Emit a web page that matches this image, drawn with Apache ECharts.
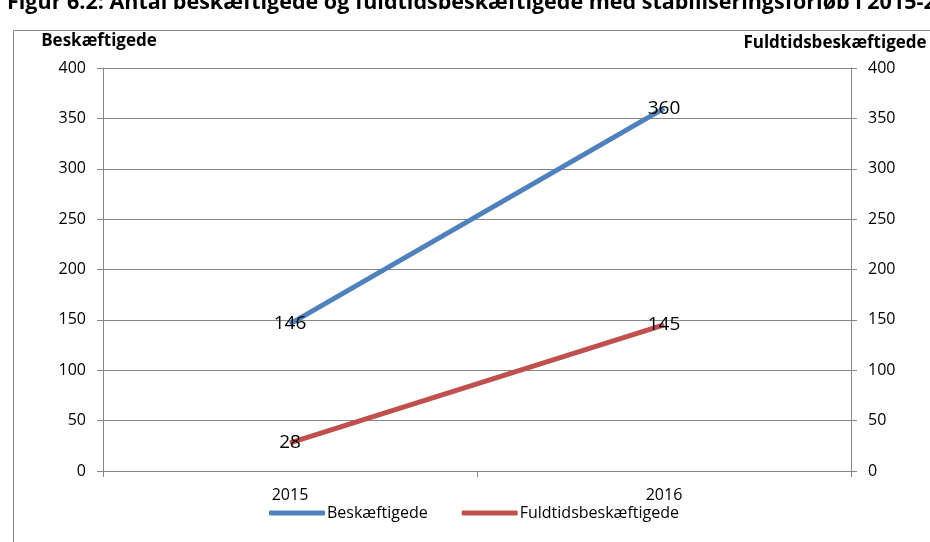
<!DOCTYPE html>
<html><head><meta charset="utf-8">
<script src="https://cdn.jsdelivr.net/npm/echarts@6/dist/echarts.min.js"></script>
<style>html,body{margin:0;padding:0;background:#fff}#c{width:930px;height:542px}</style>
</head><body><div id="c"></div>
<script>
const titleText = 'Figur 6.2: Antal beskæftigede og fuldtidsbeskæftigede med stabiliseringsforløb i 2015-2016';
const categories = ['2015', '2016'];
const beskaeftigede = [146, 360];
const fuldtids = [28, 145];
const seriesNames = ['Beskæftigede', 'Fuldtidsbeskæftigede'];
const axisNames = ['Beskæftigede', 'Fuldtidsbeskæftigede'];

const font = '"Open Sans", "Liberation Sans", sans-serif';
const chart = echarts.init(document.getElementById('c'));
const axisCommon = {
  type: 'value', min: 0, max: 400, interval: 50,
  axisLine: {show: true, lineStyle: {color: '#868686', width: 1}},
  axisTick: {show: true, length: 6, lineStyle: {color: '#868686'}},
  axisLabel: {color: '#000', fontSize: 16, fontFamily: font, margin: 17},
  nameTextStyle: {color: '#000', fontSize: 17, fontWeight: 'bold', fontFamily: font}
};
chart.setOption({
  animation: false,
  title: {text: titleText, left: 2, top: -13,
    textStyle: {fontSize: 21.5, fontWeight: 'bold', color: '#000', fontFamily: font}},
  graphic: [{type: 'rect', shape: {x: 13.5, y: 30.5, width: 1000, height: 600},
    style: {fill: 'none', stroke: '#888', lineWidth: 1}, z: -1}],
  grid: {left: 103, right: 79, top: 68, bottom: 71},
  legend: {top: 500, left: 264, itemWidth: 56, itemHeight: 5, itemGap: 34,
    icon: 'roundRect', textStyle: {fontSize: 16, color: '#000', fontFamily: font, padding: [0, 0, 0, -3]},
    data: seriesNames},
  xAxis: {type: 'category', data: categories, boundaryGap: true,
    axisLine: {lineStyle: {color: '#868686'}},
    axisTick: {show: true, length: 6, lineStyle: {color: '#868686'}},
    axisLabel: {color: '#000', fontSize: 16, fontFamily: font, margin: 16}},
  yAxis: [
    Object.assign({}, axisCommon, {name: axisNames[0], nameLocation: 'end', nameGap: 18,
      splitLine: {show: true, lineStyle: {color: '#868686', width: 1}},
      nameTextStyle: Object.assign({}, axisCommon.nameTextStyle, {padding: [0, 8, 0, 0]})}),
    Object.assign({}, axisCommon, {name: axisNames[1], nameLocation: 'end', nameGap: 16,
      splitLine: {show: false},
      nameTextStyle: Object.assign({}, axisCommon.nameTextStyle, {padding: [0, 32, 0, 0]})})
  ],
  series: [
    {name: seriesNames[0], type: 'line', data: beskaeftigede, yAxisIndex: 0,
     symbol: 'circle', symbolSize: 1, showSymbol: true,
     lineStyle: {width: 5, color: '#4F81BD'}, itemStyle: {color: '#4F81BD'},
     label: {show: true, position: 'inside', fontSize: 19, color: '#000', fontFamily: font}},
    {name: seriesNames[1], type: 'line', data: fuldtids, yAxisIndex: 1,
     symbol: 'circle', symbolSize: 1, showSymbol: true,
     lineStyle: {width: 5, color: '#C0504D'}, itemStyle: {color: '#C0504D'},
     label: {show: true, position: 'inside', fontSize: 19, color: '#000', fontFamily: font}}
  ]
});
</script></body></html>
